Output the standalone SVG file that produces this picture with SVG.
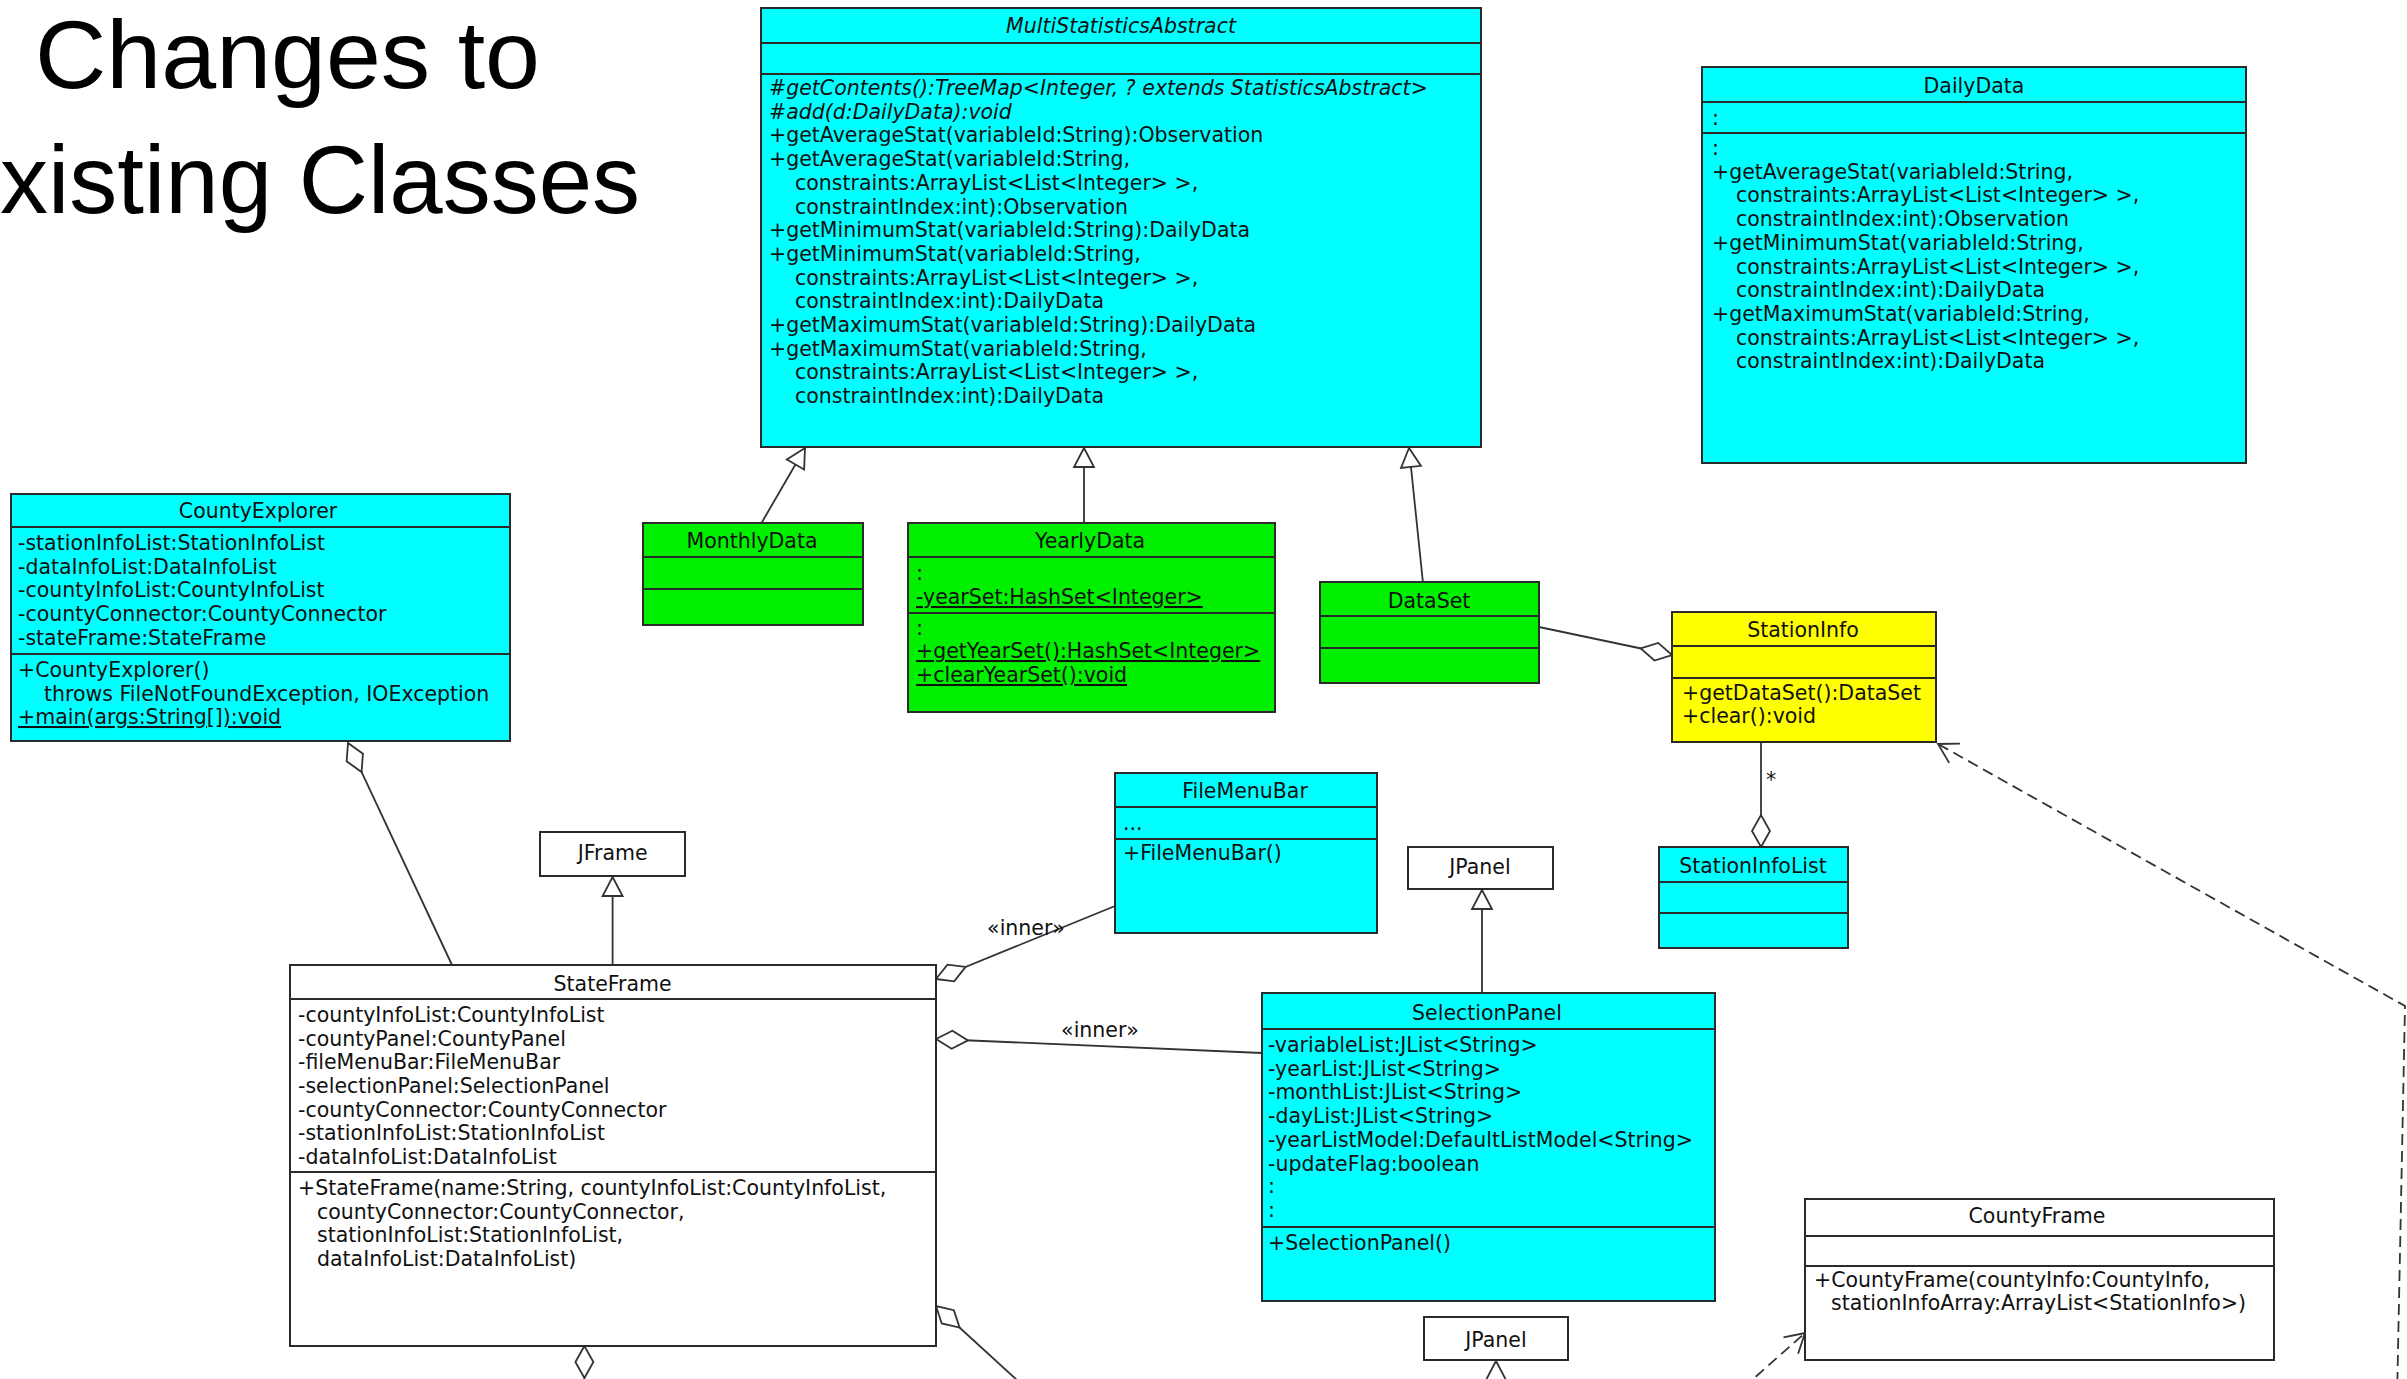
<svg xmlns="http://www.w3.org/2000/svg" width="2407" height="1379" viewBox="0 0 2407 1379">
<style>
  .t { font-family: "DejaVu Sans", "Liberation Sans", sans-serif; font-size: 20.5px; fill: #111; }
  .c { text-anchor: middle; }
  .it { font-style: italic; }
  .u { text-decoration: underline; }
  .box { stroke: #2a2a2a; stroke-width: 2; }
  .cyan { fill: #00FFFF; }
  .green { fill: #00F000; }
  .yellow { fill: #FFFF00; }
  .white { fill: #FFFFFF; }
  .div { stroke: #2a2a2a; stroke-width: 2; fill: none; }
  .conn { stroke: #333; stroke-width: 1.8; fill: none; }
  .dash { stroke-dasharray: 11 6; }
  .title { font-family: "Liberation Sans", "Open Sans", sans-serif; font-size: 96px; fill: #000; }
</style>
<defs>
  <marker id="gen" markerUnits="userSpaceOnUse" viewBox="-21 -12 23 24" refX="0" refY="0" markerWidth="23" markerHeight="24" orient="auto">
    <path d="M0,0 L-19,-10 L-19,10 Z" fill="#fff" stroke="#333" stroke-width="1.8"/>
  </marker>
  <marker id="agg" markerUnits="userSpaceOnUse" viewBox="-34 -11 36 22" refX="0" refY="0" markerWidth="36" markerHeight="22" orient="auto">
    <path d="M0,0 L-16,-9 L-32,0 L-16,9 Z" fill="#fff" stroke="#333" stroke-width="1.8"/>
  </marker>
  <marker id="open" markerUnits="userSpaceOnUse" viewBox="-22 -13 24 26" refX="0" refY="0" markerWidth="24" markerHeight="26" orient="auto">
    <path d="M-19,-11 L0,0 L-19,11" fill="none" stroke="#333" stroke-width="1.8"/>
  </marker>
</defs>
<rect x="0" y="0" width="2407" height="1379" fill="#fff"/>

<g id="heading">
  <text class="title" x="35" y="88" textLength="505" lengthAdjust="spacingAndGlyphs">Changes to</text>
  <text class="title" x="0" y="213" textLength="640" lengthAdjust="spacingAndGlyphs">xisting Classes</text>
</g>

<g id="connectors">
  <path class="conn" d="M761.5,523 L805,448" marker-end="url(#gen)"/>
  <path class="conn" d="M1084,523 L1084,448" marker-end="url(#gen)"/>
  <path class="conn" d="M1423,583 L1409,448" marker-end="url(#gen)"/>
  <path class="conn" d="M1539,627 L1672,655" marker-end="url(#agg)"/>
  <path class="conn" d="M1761,742 L1761,847" marker-end="url(#agg)"/>
  <text class="t" x="1766" y="787">*</text>
  <path class="conn" d="M612.6,965 L612.6,877" marker-end="url(#gen)"/>
  <path class="conn" d="M1482,993 L1482,890" marker-end="url(#gen)"/>
  <path class="conn" d="M1496,1400 L1496,1361" marker-end="url(#gen)"/>
  <path class="conn" d="M452,965 L348,743" marker-end="url(#agg)"/>
  <path class="conn" d="M1115,906 L936,979" marker-end="url(#agg)"/>
  <text class="t c" x="1026" y="935">«inner»</text>
  <path class="conn" d="M1262,1053 L936,1039" marker-end="url(#agg)"/>
  <text class="t c" x="1100" y="1037">«inner»</text>
  <path class="conn" d="M1030,1392 L936,1306" marker-end="url(#agg)"/>
  <path class="conn" d="M584.4,1400 L584.4,1346" marker-end="url(#agg)"/>
  <path class="conn dash" d="M1743,1388 L1805,1333" marker-end="url(#open)"/>
  <path class="conn dash" d="M2397,1400 L2405,1006 L1938,744" marker-end="url(#open)"/>
</g>

<g id="MultiStatisticsAbstract">
  <rect class="box cyan" x="761" y="8" width="720" height="439"/>
  <path class="div" d="M761,43 H1481 M761,74 H1481"/>
  <text class="t c it" x="1121" y="33">MultiStatisticsAbstract</text>
  <text class="t">
    <tspan class="it" x="769" y="95">#getContents():TreeMap&lt;Integer, ? extends StatisticsAbstract&gt;</tspan>
    <tspan class="it" x="769" y="118.7">#add(d:DailyData):void</tspan>
    <tspan x="769" y="142.4">+getAverageStat(variableId:String):Observation</tspan>
    <tspan x="769" y="166.1">+getAverageStat(variableId:String,</tspan>
    <tspan x="795" y="189.8">constraints:ArrayList&lt;List&lt;Integer&gt; &gt;,</tspan>
    <tspan x="795" y="213.5">constraintIndex:int):Observation</tspan>
    <tspan x="769" y="237.2">+getMinimumStat(variableId:String):DailyData</tspan>
    <tspan x="769" y="260.9">+getMinimumStat(variableId:String,</tspan>
    <tspan x="795" y="284.6">constraints:ArrayList&lt;List&lt;Integer&gt; &gt;,</tspan>
    <tspan x="795" y="308.3">constraintIndex:int):DailyData</tspan>
    <tspan x="769" y="332">+getMaximumStat(variableId:String):DailyData</tspan>
    <tspan x="769" y="355.7">+getMaximumStat(variableId:String,</tspan>
    <tspan x="795" y="379.4">constraints:ArrayList&lt;List&lt;Integer&gt; &gt;,</tspan>
    <tspan x="795" y="403.1">constraintIndex:int):DailyData</tspan>
  </text>
</g>

<g id="DailyData">
  <rect class="box cyan" x="1702" y="67" width="544" height="396"/>
  <path class="div" d="M1702,102 H2246 M1702,133 H2246"/>
  <text class="t c" x="1974" y="93">DailyData</text>
  <text class="t">
    <tspan x="1712" y="125">:</tspan>
    <tspan x="1712" y="155">:</tspan>
    <tspan x="1712" y="178.7">+getAverageStat(variableId:String,</tspan>
    <tspan x="1736" y="202.4">constraints:ArrayList&lt;List&lt;Integer&gt; &gt;,</tspan>
    <tspan x="1736" y="226.1">constraintIndex:int):Observation</tspan>
    <tspan x="1712" y="249.8">+getMinimumStat(variableId:String,</tspan>
    <tspan x="1736" y="273.5">constraints:ArrayList&lt;List&lt;Integer&gt; &gt;,</tspan>
    <tspan x="1736" y="297.2">constraintIndex:int):DailyData</tspan>
    <tspan x="1712" y="320.9">+getMaximumStat(variableId:String,</tspan>
    <tspan x="1736" y="344.6">constraints:ArrayList&lt;List&lt;Integer&gt; &gt;,</tspan>
    <tspan x="1736" y="368.3">constraintIndex:int):DailyData</tspan>
  </text>
</g>

<g id="CountyExplorer">
  <rect class="box cyan" x="11" y="494" width="499" height="247"/>
  <path class="div" d="M11,527 H510 M11,654 H510"/>
  <text class="t c" x="258" y="518">CountyExplorer</text>
  <text class="t">
    <tspan x="18" y="550">-stationInfoList:StationInfoList</tspan>
    <tspan x="18" y="573.7">-dataInfoList:DataInfoList</tspan>
    <tspan x="18" y="597.4">-countyInfoList:CountyInfoList</tspan>
    <tspan x="18" y="621.1">-countyConnector:CountyConnector</tspan>
    <tspan x="18" y="644.8">-stateFrame:StateFrame</tspan>
    <tspan x="18" y="677">+CountyExplorer()</tspan>
    <tspan x="44" y="700.5">throws FileNotFoundException, IOException</tspan>
    <tspan class="u" x="18" y="724">+main(args:String[]):void</tspan>
  </text>
</g>

<g id="MonthlyData">
  <rect class="box green" x="643" y="523" width="220" height="102"/>
  <path class="div" d="M643,557 H863 M643,589 H863"/>
  <text class="t c" x="752" y="548">MonthlyData</text>
</g>

<g id="YearlyData">
  <rect class="box green" x="908" y="523" width="367" height="189"/>
  <path class="div" d="M908,557 H1275 M908,613 H1275"/>
  <text class="t c" x="1090" y="548">YearlyData</text>
  <text class="t">
    <tspan x="916" y="580">:</tspan>
    <tspan class="u" x="916" y="604">-yearSet:HashSet&lt;Integer&gt;</tspan>
    <tspan x="916" y="635">:</tspan>
    <tspan class="u" x="916" y="658">+getYearSet():HashSet&lt;Integer&gt;</tspan>
    <tspan class="u" x="916" y="682">+clearYearSet():void</tspan>
  </text>
</g>

<g id="DataSet">
  <rect class="box green" x="1320" y="582" width="219" height="101"/>
  <path class="div" d="M1320,616 H1539 M1320,648 H1539"/>
  <text class="t c" x="1429" y="608">DataSet</text>
</g>

<g id="StationInfo">
  <rect class="box yellow" x="1672" y="612" width="264" height="130"/>
  <path class="div" d="M1672,646 H1936 M1672,678 H1936"/>
  <text class="t c" x="1803" y="637">StationInfo</text>
  <text class="t">
    <tspan x="1682" y="700">+getDataSet():DataSet</tspan>
    <tspan x="1682" y="723">+clear():void</tspan>
  </text>
</g>

<g id="StationInfoList">
  <rect class="box cyan" x="1659" y="847" width="189" height="101"/>
  <path class="div" d="M1659,882 H1848 M1659,913 H1848"/>
  <text class="t c" x="1753" y="873">StationInfoList</text>
</g>

<g id="FileMenuBar">
  <rect class="box cyan" x="1115" y="773" width="262" height="160"/>
  <path class="div" d="M1115,807 H1377 M1115,839 H1377"/>
  <text class="t c" x="1245" y="798">FileMenuBar</text>
  <text class="t">
    <tspan x="1123" y="830">...</tspan>
    <tspan x="1123" y="860">+FileMenuBar()</tspan>
  </text>
</g>

<g id="JFrame">
  <rect class="box white" x="540" y="832" width="145" height="44"/>
  <text class="t c" x="612.6" y="860">JFrame</text>
</g>

<g id="JPanel1">
  <rect class="box white" x="1408" y="847" width="145" height="42"/>
  <text class="t c" x="1480" y="874">JPanel</text>
</g>

<g id="StateFrame">
  <rect class="box white" x="290" y="965" width="646" height="381"/>
  <path class="div" d="M290,999 H936 M290,1172 H936"/>
  <text class="t c" x="612.6" y="991">StateFrame</text>
  <text class="t">
    <tspan x="298" y="1021.8">-countyInfoList:CountyInfoList</tspan>
    <tspan x="298" y="1045.5">-countyPanel:CountyPanel</tspan>
    <tspan x="298" y="1069.2">-fileMenuBar:FileMenuBar</tspan>
    <tspan x="298" y="1092.9">-selectionPanel:SelectionPanel</tspan>
    <tspan x="298" y="1116.6">-countyConnector:CountyConnector</tspan>
    <tspan x="298" y="1140.3">-stationInfoList:StationInfoList</tspan>
    <tspan x="298" y="1164">-dataInfoList:DataInfoList</tspan>
    <tspan x="298" y="1195">+StateFrame(name:String, countyInfoList:CountyInfoList,</tspan>
    <tspan x="317" y="1218.7">countyConnector:CountyConnector,</tspan>
    <tspan x="317" y="1242.4">stationInfoList:StationInfoList,</tspan>
    <tspan x="317" y="1266.1">dataInfoList:DataInfoList)</tspan>
  </text>
</g>

<g id="SelectionPanel">
  <rect class="box cyan" x="1262" y="993" width="453" height="308"/>
  <path class="div" d="M1262,1029 H1715 M1262,1227 H1715"/>
  <text class="t c" x="1487" y="1020">SelectionPanel</text>
  <text class="t">
    <tspan x="1268" y="1052">-variableList:JList&lt;String&gt;</tspan>
    <tspan x="1268" y="1075.7">-yearList:JList&lt;String&gt;</tspan>
    <tspan x="1268" y="1099.4">-monthList:JList&lt;String&gt;</tspan>
    <tspan x="1268" y="1123.1">-dayList:JList&lt;String&gt;</tspan>
    <tspan x="1268" y="1146.8">-yearListModel:DefaultListModel&lt;String&gt;</tspan>
    <tspan x="1268" y="1170.5">-updateFlag:boolean</tspan>
    <tspan x="1268" y="1193">:</tspan>
    <tspan x="1268" y="1217">:</tspan>
    <tspan x="1268" y="1250">+SelectionPanel()</tspan>
  </text>
</g>

<g id="CountyFrame">
  <rect class="box white" x="1805" y="1199" width="469" height="161"/>
  <path class="div" d="M1805,1236 H2274 M1805,1266 H2274"/>
  <text class="t c" x="2037" y="1223">CountyFrame</text>
  <text class="t">
    <tspan x="1814" y="1287">+CountyFrame(countyInfo:CountyInfo,</tspan>
    <tspan x="1831" y="1310">stationInfoArray:ArrayList&lt;StationInfo&gt;)</tspan>
  </text>
</g>

<g id="JPanel2">
  <rect class="box white" x="1424" y="1317" width="144" height="43"/>
  <text class="t c" x="1496" y="1347">JPanel</text>
</g>
</svg>
